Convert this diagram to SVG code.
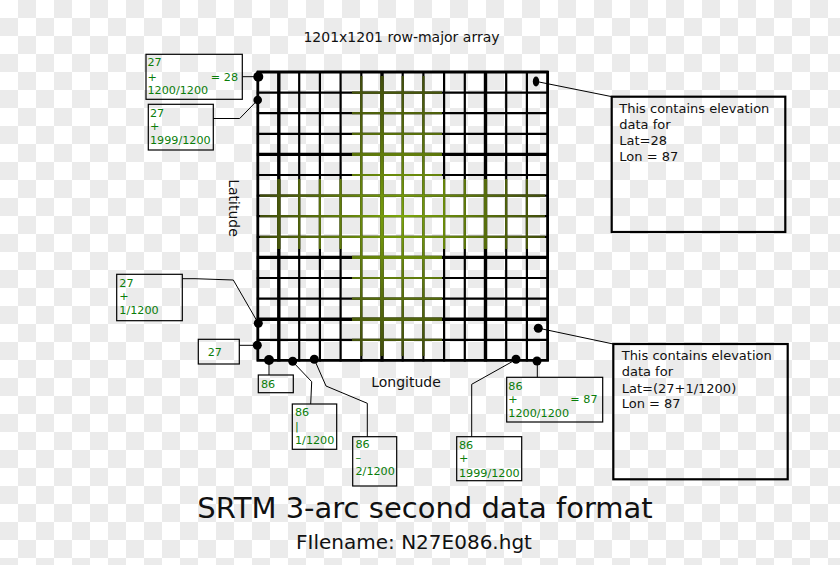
<svg xmlns="http://www.w3.org/2000/svg" xmlns:xlink="http://www.w3.org/1999/xlink" width="840" height="565" viewBox="0 0 840 565">
<defs>
<pattern id="checker" width="36" height="36" patternUnits="userSpaceOnUse">
<rect width="36" height="36" fill="#ffffff"/>
<rect x="18" y="0" width="18" height="18" fill="#ebebeb"/>
<rect x="0" y="18" width="18" height="18" fill="#ebebeb"/>
</pattern>
<radialGradient id="glow" gradientUnits="userSpaceOnUse" cx="402" cy="216" r="175">
<stop offset="0" stop-color="#7ca60a"/>
<stop offset="0.5" stop-color="#566c0c"/>
<stop offset="1" stop-color="#343a0c"/>
</radialGradient>
<clipPath id="cross">
<rect x="352" y="76" width="90" height="280"/>
<rect x="260" y="179" width="285" height="70"/>
</clipPath>
<g id="gridlines">
<path class="thin" d="M299.2 71V361.5M319.9 71V361.5M340.6 71V361.5M361.3 71V361.5M402.7 71V361.5M423.4 71V361.5M444.1 71V361.5M464.8 71V361.5M506.2 71V361.5M526.9 71V361.5 M256.8 92.6H548.6M256.8 113.2H548.6M256.8 133.8H548.6M256.8 175H548.6M256.8 195.6H548.6M256.8 216.2H548.6M256.8 236.8H548.6M256.8 278H548.6M256.8 298.6H548.6M256.8 339.8H548.6"/>
<path class="thick" d="M278.8 71V361.5M382 71V361.5M485.5 71V361.5 M256.8 154.4H548.6M256.8 257.4H548.6M256.8 319.2H548.6"/>
<path class="edge" d="M257.8 71V361.5M547.6 71V361.5M256.8 72H548.6M256.8 360.4H548.6"/>
</g>
<style>
text { font-family: "DejaVu Sans", "Liberation Sans", sans-serif; }
.g { fill: #0a7d0a; font-size: 11.2px; }
.k { fill: #111111; font-size: 13px; }
.box { fill: none; stroke: #000; stroke-width: 1.2; }
.bigbox { fill: none; stroke: #000; stroke-width: 2.2; }
.conn { fill: none; stroke: #000; stroke-width: 1; }
.dot { fill: #000; }
.thin { fill: none; stroke-width: 2.2; }
.thick { fill: none; stroke-width: 3.4; }
.edge { fill: none; stroke-width: 2.8; }
</style>
</defs>
<rect width="840" height="565" fill="url(#checker)"/>

<g id="grid">
<use xlink:href="#gridlines" href="#gridlines" stroke="#000"/>
<use xlink:href="#gridlines" href="#gridlines" stroke="url(#glow)" clip-path="url(#cross)"/>
</g>

<g id="title">
<text x="401.5" y="42" font-size="14" fill="#111" text-anchor="middle">1201x1201 row-major array</text>
</g>
<g id="latitude-label">
<text transform="translate(229,208) rotate(90)" font-size="14" fill="#111" text-anchor="middle">Latitude</text>
</g>
<g id="longitude-label">
<text x="406" y="387" font-size="14" fill="#111" text-anchor="middle">Longitude</text>
</g>

<g id="connectors">
<path class="conn" d="M242.3 76.7H258.3"/>
<path class="conn" d="M213.3 118.5H239.7L257.7 100"/>
<path class="conn" d="M539 82L612 96.7"/>
<path class="conn" d="M540 328.5L613.3 344"/>
<path class="conn" d="M537.3 361V377.3"/>
<path class="conn" d="M516 359.5L471.7 384.3V436.7"/>
<path class="conn" d="M269 360V375"/>
<path class="conn" d="M292.7 361.7L311.7 381.7L310.7 404"/>
<path class="conn" d="M314.3 359.3L326 386L367.3 403.3V436.7"/>
<path class="conn" d="M182.3 278.7H195L233.3 280L258.3 323.3"/>
<path class="conn" d="M239.3 345.3H257.3"/>
</g>

<g id="dots">
<circle class="dot" cx="258.3" cy="76.7" r="5"/>
<circle class="dot" cx="257.7" cy="100" r="4.3"/>
<ellipse class="dot" cx="536" cy="81.5" rx="3.2" ry="5"/>
<circle class="dot" cx="538.3" cy="328.3" r="4.5"/>
<circle class="dot" cx="258.3" cy="323.3" r="4.5"/>
<circle class="dot" cx="257.3" cy="345.3" r="4.5"/>
<circle class="dot" cx="269" cy="360" r="5"/>
<circle class="dot" cx="292.7" cy="361.3" r="4.5"/>
<circle class="dot" cx="314.3" cy="359.3" r="4.5"/>
<circle class="dot" cx="516" cy="359.3" r="4.5"/>
<circle class="dot" cx="537" cy="361" r="4.5"/>
</g>

<g id="box-lat28">
<rect class="box" x="146" y="54.3" width="96.3" height="45"/>
<text class="g" x="147.5" y="66">27</text>
<text class="g" x="147.5" y="80.7">+</text>
<text class="g" x="238" y="80.7" text-anchor="end">= 28</text>
<text class="g" x="147.5" y="94">1200/1200</text>
</g>
<g id="box-lat-1999">
<rect class="box" x="148.3" y="104.3" width="65" height="45.7"/>
<text class="g" x="150" y="116.7">27</text>
<text class="g" x="150" y="130">+</text>
<text class="g" x="150" y="144">1999/1200</text>
</g>
<g id="box-lat-1">
<rect class="box" x="116.7" y="274.3" width="65.6" height="46.4"/>
<text class="g" x="119.3" y="286.7">27</text>
<text class="g" x="119.3" y="300">+</text>
<text class="g" x="119.3" y="314.3">1/1200</text>
</g>
<g id="box-lat27">
<rect class="box" x="198.3" y="339.3" width="41" height="24.7"/>
<text class="g" x="207.7" y="355.5">27</text>
</g>
<g id="box-lon86">
<rect class="box" x="258.3" y="375" width="35" height="17.7"/>
<text class="g" x="261" y="387.5">86</text>
</g>
<g id="box-lon-1">
<rect class="box" x="292.3" y="404" width="44.4" height="45.3"/>
<text class="g" x="295" y="416">86</text>
<text class="g" x="295" y="430">|</text>
<text class="g" x="295" y="444">1/1200</text>
</g>
<g id="box-lon-2">
<rect class="box" x="352.7" y="436.7" width="44" height="49.3"/>
<text class="g" x="355.5" y="447.5">86</text>
<text class="g" x="355.5" y="461">–</text>
<text class="g" x="355.5" y="474.5">2/1200</text>
</g>
<g id="box-lon-1999">
<rect class="box" x="456.7" y="436.7" width="65" height="44"/>
<text class="g" x="459" y="448.5">86</text>
<text class="g" x="459" y="462">+</text>
<text class="g" x="459" y="476.5">1999/1200</text>
</g>
<g id="box-lon87">
<rect class="box" x="506.7" y="377.3" width="96" height="44.7"/>
<text class="g" x="508.3" y="389.5">86</text>
<text class="g" x="508.3" y="403.3">+</text>
<text class="g" x="597.5" y="403.3" text-anchor="end">= 87</text>
<text class="g" x="508.3" y="416.7">1200/1200</text>
</g>

<g id="note-top">
<rect class="bigbox" x="611.7" y="96.7" width="173.6" height="135.3"/>
<text class="k" x="619.3" y="113.3">This contains elevation</text>
<text class="k" x="619.3" y="129.3">data for</text>
<text class="k" x="619.3" y="145.3">Lat=28</text>
<text class="k" x="619.3" y="161.3">Lon = 87</text>
</g>
<g id="note-bottom">
<rect class="bigbox" x="613.3" y="344" width="174.4" height="135.3"/>
<text class="k" x="621.7" y="360">This contains elevation</text>
<text class="k" x="621.7" y="376">data for</text>
<text class="k" x="621.7" y="392.5">Lat=(27+1/1200)</text>
<text class="k" x="621.7" y="408.3">Lon = 87</text>
</g>

<g id="footer">
<text x="425" y="517.5" font-size="29" fill="#111" text-anchor="middle">SRTM 3-arc second data format</text>
<text x="414" y="548.5" font-size="20" fill="#111" text-anchor="middle">FIlename: N27E086.hgt</text>
</g>
</svg>
